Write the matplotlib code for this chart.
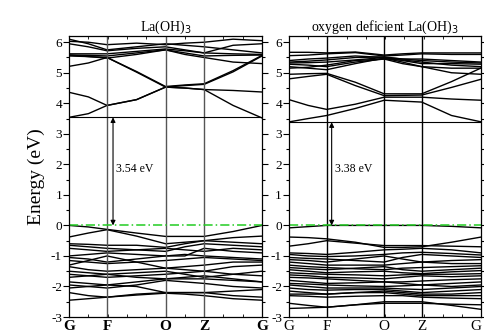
import matplotlib as mpl
mpl.use('Agg')
import matplotlib.pyplot as plt
from matplotlib.ticker import MultipleLocator

plt.rcParams['font.family'] = ['Liberation Serif', 'DejaVu Serif']
plt.rcParams['axes.unicode_minus'] = False

# ========================================================================================
# k-path (fraction of path length), 9 sample points per band

k_left = [0.0, 0.10, 0.197, 0.35, 0.50, 0.60, 0.70, 0.85, 1.0]
k_right = [0.0, 0.10, 0.196, 0.345, 0.495, 0.59, 0.69, 0.845, 1.0]
sym_left = [0.0, 0.197, 0.50, 0.70, 1.0]
sym_right = [0.0, 0.196, 0.495, 0.69, 1.0]
sym_labels = ["G", "F", "O", "Z", "G"]

gap_left = 3.54
gap_right = 3.38

# La(OH)3
bands_left = [
    # conduction
    [3.54, 3.66, 3.93, 4.12, 4.53, 4.50, 4.45, 3.93, 3.52],
    [4.36, 4.21, 3.93, 4.12, 4.53, 4.50, 4.45, 4.42, 4.37],
    [5.21, 5.32, 5.50, 5.02, 4.53, 4.58, 4.62, 5.03, 5.55],
    [5.55, 5.53, 5.50, 5.04, 4.55, 4.60, 4.64, 5.07, 5.57],
    [6.03, 6.00, 5.92, 5.97, 5.92, 5.97, 6.00, 6.10, 6.05],
    [5.95, 5.85, 5.72, 5.80, 5.85, 5.75, 5.65, 5.90, 5.95],
    [5.62, 5.62, 5.62, 5.70, 5.78, 5.72, 5.65, 5.62, 5.60],
    [5.58, 5.57, 5.55, 5.65, 5.75, 5.65, 5.55, 5.57, 5.58],
    [5.58, 5.53, 5.48, 5.60, 5.75, 5.60, 5.50, 5.35, 5.30],
    [6.10, 5.95, 5.75, 5.85, 5.95, 5.90, 5.85, 5.75, 5.65],
    # valence
    [0.00, -0.05, -0.13, -0.25, -0.36, -0.36, -0.36, -0.20, 0.00],
    [-0.38, -0.25, -0.14, -0.35, -0.60, -0.55, -0.50, -0.40, -0.35],
    [-0.60, -0.62, -0.65, -0.65, -0.72, -0.60, -0.50, -0.55, -0.60],
    [-0.65, -0.70, -0.75, -0.80, -0.85, -0.70, -0.60, -0.65, -0.70],
    [-0.75, -0.80, -0.85, -0.80, -0.75, -0.80, -0.85, -0.75, -0.80],
    [-1.00, -0.95, -0.90, -0.95, -1.00, -1.00, -0.75, -0.85, -0.90],
    [-1.05, -1.10, -1.20, -1.10, -1.00, -0.95, -1.00, -1.05, -1.10],
    [-1.15, -1.20, -1.25, -1.20, -1.15, -1.10, -1.05, -1.10, -1.15],
    [-1.30, -1.15, -1.00, -1.20, -1.40, -1.35, -1.30, -1.20, -1.20],
    [-1.35, -1.45, -1.50, -1.45, -1.40, -1.45, -1.50, -1.35, -1.30],
    [-1.50, -1.55, -1.60, -1.55, -1.50, -1.60, -1.70, -1.60, -1.50],
    [-1.60, -1.65, -1.70, -1.65, -1.60, -1.55, -1.50, -1.60, -1.65],
    [-1.70, -1.65, -1.60, -1.70, -1.75, -1.75, -1.75, -1.80, -1.85],
    [-1.85, -1.90, -1.95, -1.85, -1.75, -1.70, -1.65, -1.75, -1.85],
    [-1.95, -2.00, -2.05, -1.95, -1.80, -1.85, -1.90, -2.00, -2.05],
    [-2.05, -2.00, -1.95, -2.00, -2.20, -2.20, -2.20, -2.15, -2.10],
    [-2.20, -2.30, -2.35, -2.25, -2.20, -2.20, -2.20, -2.30, -2.35],
    [-2.45, -2.40, -2.35, -2.28, -2.22, -2.25, -2.30, -2.40, -2.45],
]

# oxygen deficient La(OH)3
bands_right = [
    # conduction
    [3.39, 3.50, 3.60, 3.83, 4.10, 4.07, 4.04, 3.60, 3.39],
    [4.12, 3.93, 3.80, 3.97, 4.20, 4.20, 4.20, 4.14, 4.10],
    [4.80, 4.88, 4.95, 4.58, 4.25, 4.26, 4.27, 4.52, 4.79],
    [4.95, 4.97, 4.98, 4.69, 4.31, 4.31, 4.31, 4.71, 5.16],
    [5.67, 5.67, 5.65, 5.68, 5.58, 5.62, 5.65, 5.65, 5.65],
    [5.56, 5.58, 5.62, 5.66, 5.55, 5.58, 5.62, 5.60, 5.60],
    [5.40, 5.45, 5.48, 5.55, 5.50, 5.45, 5.45, 5.40, 5.35],
    [5.35, 5.38, 5.42, 5.50, 5.52, 5.45, 5.40, 5.35, 5.32],
    [5.32, 5.33, 5.35, 5.42, 5.50, 5.40, 5.30, 5.30, 5.28],
    [5.28, 5.25, 5.20, 5.35, 5.45, 5.30, 5.20, 5.15, 5.15],
    [5.20, 5.15, 5.10, 5.30, 5.48, 5.35, 5.20, 5.00, 4.95],
    [5.15, 5.18, 5.25, 5.40, 5.45, 5.42, 5.35, 5.25, 5.20],
    # valence
    [-0.08, -0.04, 0.00, 0.00, 0.00, 0.00, 0.00, -0.03, -0.08],
    [-0.38, -0.40, -0.44, -0.55, -0.72, -0.72, -0.70, -0.55, -0.38],
    [-0.68, -0.60, -0.50, -0.58, -0.66, -0.66, -0.66, -0.68, -0.70],
    [-0.90, -0.92, -0.95, -0.88, -0.80, -0.78, -0.75, -0.80, -0.90],
    [-0.95, -1.00, -1.02, -1.00, -0.95, -0.90, -0.88, -0.92, -0.97],
    [-1.05, -1.08, -1.10, -1.15, -1.20, -1.05, -0.95, -1.00, -1.05],
    [-1.12, -1.15, -1.20, -1.10, -1.00, -1.10, -1.20, -1.15, -1.12],
    [-1.20, -1.25, -1.30, -1.30, -1.30, -1.25, -1.20, -1.25, -1.25],
    [-1.30, -1.35, -1.38, -1.42, -1.45, -1.40, -1.38, -1.35, -1.32],
    [-1.38, -1.42, -1.45, -1.40, -1.35, -1.45, -1.50, -1.45, -1.40],
    [-1.45, -1.50, -1.55, -1.52, -1.50, -1.55, -1.58, -1.52, -1.48],
    [-1.55, -1.58, -1.60, -1.62, -1.65, -1.62, -1.60, -1.60, -1.58],
    [-1.62, -1.65, -1.70, -1.72, -1.75, -1.70, -1.65, -1.68, -1.65],
    [-1.70, -1.72, -1.75, -1.80, -1.85, -1.85, -1.82, -1.78, -1.75],
    [-1.80, -1.85, -1.90, -1.88, -1.85, -1.90, -1.95, -1.90, -1.85],
    [-1.90, -1.92, -1.95, -1.98, -2.00, -1.98, -1.95, -2.00, -1.95],
    [-1.95, -2.00, -2.05, -2.05, -2.05, -2.08, -2.10, -2.05, -2.00],
    [-2.05, -2.10, -2.12, -2.10, -2.10, -2.15, -2.20, -2.15, -2.10],
    [-2.15, -2.20, -2.25, -2.20, -2.15, -2.20, -2.25, -2.25, -2.20],
    [-2.25, -2.25, -2.25, -2.20, -2.20, -2.25, -2.30, -2.30, -2.30],
    [-2.30, -2.32, -2.35, -2.32, -2.30, -2.30, -2.35, -2.38, -2.40],
    [-2.55, -2.62, -2.68, -2.60, -2.50, -2.50, -2.50, -2.62, -2.75],
    [-2.72, -2.70, -2.68, -2.60, -2.55, -2.55, -2.55, -2.58, -2.60],
]

# ========================================================================================

def draw_panel(ax, k, bands, sym, gap, arrow_x, title, label_weight, sym_color):

    for band in bands:
        ax.plot(k, band, color="black", lw=1.0, solid_joinstyle="round")

    for x in sym[1:-1]:
        ax.axvline(x, color=sym_color, lw=1.0)

    ax.axhline(gap, color="black", lw=0.8)
    ax.axhline(0, color="#22cc22", lw=1.1, ls=(0, (6, 2, 1, 2)))

    ax.annotate("", xy=(arrow_x, gap), xytext=(arrow_x, 0.0),
                arrowprops=dict(arrowstyle="<|-|>", color="black", lw=0.8,
                                mutation_scale=7, shrinkA=0, shrinkB=0))
    ax.text(arrow_x + 0.015, 1.85, "%.2f eV" % gap, fontsize=8.5, va="center")

    ax.set_xlim(0, 1)
    ax.set_ylim(-3, 6.2)
    ax.set_xticks(sym)
    ax.set_xticklabels(sym_labels, fontsize=11, fontweight=label_weight)
    ax.set_xticks([i / 10 for i in range(11)], minor=True)
    ax.set_yticks(range(-3, 7))
    ax.yaxis.set_minor_locator(MultipleLocator(0.5))
    ax.tick_params(axis="y", which="major", labelsize=9.5, length=4, width=0.8,
                   direction="out", right=True, pad=1)
    ax.tick_params(axis="y", which="minor", length=2, width=0.8,
                   direction="out", right=True)
    ax.tick_params(axis="x", which="major", length=0, pad=2.5)
    ax.tick_params(axis="x", which="minor", length=2, direction="in",
                   top=True, bottom=True)
    for side in ax.spines.values():
        side.set_linewidth(0.9)
    ax.set_title(title, fontsize=10, pad=4)


fig = plt.figure(figsize=(4.84, 3.36), dpi=100)

ax1 = fig.add_axes([0.1426, 0.0565, 0.3988, 0.836])
draw_panel(ax1, k_left, bands_left, sym_left, gap_left, 0.228,
           "La(OH)$_3$", "bold", "#555555")
ax1.set_ylabel("Energy (eV)", fontsize=14, labelpad=4)

ax2 = fig.add_axes([0.597, 0.0565, 0.3975, 0.836])
draw_panel(ax2, k_right, bands_right, sym_right, gap_right, 0.222,
           "oxygen deficient La(OH)$_3$", "normal", "black")
ax2.get_xticklabels()[-1].set_horizontalalignment("right")

plt.savefig("out.png", dpi=100)
